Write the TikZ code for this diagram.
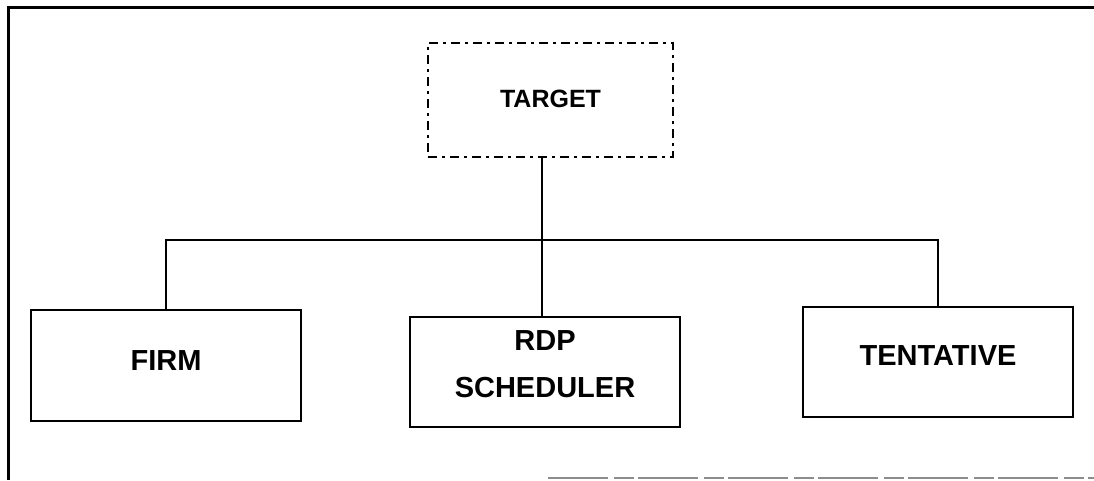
\documentclass[tikz,border=0pt]{standalone}
\usepackage{fontspec}
\setmainfont{Liberation Sans}
\begin{document}
\begin{tikzpicture}[x=1pt,y=-1pt,
  box/.style={draw=black,line width=2.4pt,rectangle,minimum width=270pt,
    minimum height=110pt,inner sep=0pt,align=center,
    font=\fontsize{29}{47}\selectfont\bfseries},
  tbox/.style={draw=black,line width=2.4pt,rectangle,minimum width=245pt,
    minimum height=114pt,inner sep=0pt,
    dash pattern=on 9pt off 5pt on 3pt off 5pt,
    font=\fontsize{25}{30}\selectfont\bfseries},
  link/.style={draw=black,line width=2.2pt},
  frame/.style={draw=black,line width=3pt}]
\useasboundingbox (0,0) rectangle (1094,480);
% outer frame
\draw[frame] (8,480) -- (8,7) -- (1094,7);
\draw[draw=black!45,line width=1.5pt,dash pattern=on 60pt off 6pt on 20pt off 4pt] (548,478) -- (1094,478);
% nodes (labels sit a little above the middle of each box)
\node[tbox] (tgt) at (550.5,100) {\raisebox{-7pt}[0pt][0pt]{TARGET}};
\node[box,minimum height=111pt] (firm) at (166,365.5) {\raisebox{-4.5pt}[0pt][0pt]{FIRM}};
\node[box] (rdp) at (545,372) {\raisebox{-25pt}[0pt][0pt]{\begin{tabular}[b]{@{}c@{}}RDP\\SCHEDULER\end{tabular}}};
\node[box] (tent) at (938,362) {\raisebox{-3pt}[0pt][0pt]{TENTATIVE}};
% connectors
\coordinate (bus) at (542,240);
\draw[link] (tgt.south -| bus) -- (bus |- rdp.north);
\draw[link] (firm.north) |- (bus) -| (tent.north);
\end{tikzpicture}
\end{document}
